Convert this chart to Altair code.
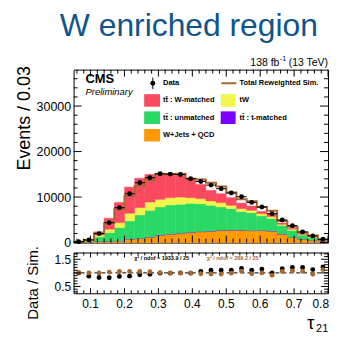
import altair as alt
import pandas as pd

# ---------------- values ----------------
bin_edges = [0.05, 0.08, 0.11, 0.14, 0.17, 0.20, 0.23, 0.26, 0.29, 0.32, 0.35, 0.38, 0.41,
             0.44, 0.47, 0.50, 0.53, 0.56, 0.59, 0.62, 0.65, 0.68, 0.71, 0.74, 0.77, 0.80]
data_counts = [200, 580, 1970, 4380, 7670, 10730, 13140, 14240, 15110, 15040, 14960, 14020, 13430,
               12630, 11830, 10880, 10070, 8830, 7810, 6350, 4960, 3720, 2340, 1460, 730]
wjets_qcd = [70, 150, 220, 290, 365, 730, 880, 1170, 1600, 1830, 1970, 2190, 2340,
             2480, 2630, 2700, 2700, 2600, 2630, 2480, 1830, 1100, 730, 510, 300]
tt_tmatched = [5, 10, 20, 30, 40, 50, 60, 70, 80, 90, 90, 90, 90,
               90, 90, 80, 80, 70, 70, 60, 50, 40, 30, 20, 15]
tt_unmatched = [25, 205, 1000, 1870, 2885, 3970, 5120, 5840, 6130, 6330, 6340, 6330, 6070,
                5610, 5090, 4670, 4010, 3900, 3140, 2720, 1870, 1510, 890, 550, 135]
tw = [20, 75, 370, 730, 1090, 1670, 1610, 1820, 1680, 1610, 1600, 1250, 1140,
      950, 950, 730, 660, 510, 510, 430, 250, 250, 150, 120, 70]
tt_wmatched = [80, 220, 760, 2420, 4440, 5770, 6460, 6090, 5770, 5330, 4960, 4300, 3150,
               2350, 1990, 1710, 1230, 950, 500, 660, 300, 200, 150, 100, 80]
total_reweighted = [200, 580, 1970, 4250, 7300, 10220, 12510, 13690, 14960, 15040, 15110, 14020, 13850,
                    13160, 12320, 10990, 9500, 9100, 7810, 6980, 4720, 3480, 2210, 1540, 650]
ratio_nominal = [1.0, 0.88, 0.83, 0.82, 0.87, 0.88, 0.93, 0.95, 0.99, 0.99, 1.0, 0.99, 1.05,
                 1.1, 1.1, 1.1, 1.16, 1.1, 1.14, 1.0, 1.15, 1.2, 1.2, 1.12, 1.22]
ratio_reweighted = [1.02, 1.0, 1.0, 1.03, 1.05, 1.05, 1.05, 1.04, 1.01, 1.0, 0.99, 1.0, 0.97,
                    0.96, 0.96, 0.99, 1.06, 0.97, 1.0, 0.91, 1.05, 1.07, 1.06, 0.95, 1.12]

names = ["W+Jets + QCD", "tt\u0304 : t-matched", "tt\u0304 : unmatched", "tW", "tt\u0304 : W-matched"]
colors = ["#ff9900", "#7c00ff", "#2ad964", "#f2f54c", "#fb4a60"]
series = [wjets_qcd, tt_tmatched, tt_unmatched, tw, tt_wmatched]

x_major = [0.1, 0.2, 0.3, 0.4, 0.5, 0.6, 0.7, 0.8]
x_labels = ["0.1", "0.2", "0.3", "0.4", "0.5", "0.6", "0.7", "0.8"]
x_minor = [round(0.02 * i, 2) for i in range(3, 41) if i % 5 != 0]
y_major = [0, 10000, 20000, 30000]
y_minor = [2000 * i for i in range(1, 19) if i % 5 != 0]
r_major = [0.5, 1, 1.5]
r_minor = [round(0.1 * i, 1) for i in range(3, 18) if i % 5 != 0]

# ---------------- styling ----------------
FONT = "Liberation Sans"
BROWN = "#a8672e"
W, H, RH = 256, 174, 41

lo = bin_edges[:-1]
hi = bin_edges[1:]
mid = [(a + b) / 2 for a, b in zip(lo, hi)]

# stacked table (bottom component first)
rows = []
base_level = [0] * len(lo)
for nm, vals in zip(names, series):
    for i, v in enumerate(vals):
        rows.append({"lo": lo[i], "hi": hi[i], "comp": nm,
                     "y0": base_level[i], "y1": base_level[i] + v})
        base_level[i] += v
stack_df = pd.DataFrame(rows)

xs = alt.Scale(domain=[0.05, 0.8], nice=False, zero=False)
ys = alt.Scale(domain=[0, 38000], nice=False)
rs = alt.Scale(domain=[0.25, 1.75], nice=False, zero=False)
cscale = alt.Scale(domain=names, range=colors)

one = pd.DataFrame({"a": [0]})


def txt(s, x, y, size, color="black", align="left", baseline="alphabetic", **kw):
    return alt.Chart(one).mark_text(text=s, fontSize=size, font=FONT, color=color,
                                    align=align, baseline=baseline, **kw).encode(
        x=alt.value(x), y=alt.value(y))


def rect(x1, x2, y1, y2, fill):
    return alt.Chart(one).mark_rect(fill=fill).encode(
        x=alt.value(x1), x2=alt.value(x2), y=alt.value(y1), y2=alt.value(y2))


def xticks(vals, length, height):
    d = pd.DataFrame({"v": vals})
    base = alt.Chart(d).mark_rule(color="black", strokeWidth=1)
    bot = base.encode(x=alt.X("v:Q", scale=xs, axis=None), y=alt.value(height), y2=alt.value(height - length))
    top = base.encode(x=alt.X("v:Q", scale=xs, axis=None), y=alt.value(0), y2=alt.value(length))
    return [bot, top]


def yticks(vals, scale, length):
    d = pd.DataFrame({"v": vals})
    base = alt.Chart(d).mark_rule(color="black", strokeWidth=1)
    left = base.encode(y=alt.Y("v:Q", scale=scale), x=alt.value(0), x2=alt.value(length))
    right = base.encode(y=alt.Y("v:Q", scale=scale), x=alt.value(W), x2=alt.value(W - length))
    return [left, right]


# ---------------- main panel ----------------
bars = alt.Chart(stack_df).mark_bar(strokeWidth=0.4).encode(
    x=alt.X("lo:Q", scale=xs, axis=None),
    x2="hi:Q",
    y=alt.Y("y0:Q", scale=ys,
            axis=alt.Axis(values=y_major, format="d", labelFontSize=12.5, labelFont=FONT,
                          labelColor="black", ticks=False, tickSize=0, domain=False, grid=False,
                          labelPadding=3, labelOverlap=False, title="Events / 0.03",
                          titleFontSize=18, titleFont=FONT,
                          titleFontWeight="normal", titleColor="black", titleAngle=-90,
                          titleX=-49, titleY=-4, titleAlign="right", titleBaseline="middle")),
    y2="y1:Q",
    color=alt.Color("comp:N", scale=cscale, legend=None),
    stroke=alt.Stroke("comp:N", scale=cscale, legend=None),
)

step_df = pd.DataFrame({"x": bin_edges, "y": total_reweighted + [total_reweighted[-1]]})
step = alt.Chart(step_df).mark_line(interpolate="step-after", color=BROWN, strokeWidth=2).encode(
    x=alt.X("x:Q", scale=xs, axis=None), y=alt.Y("y:Q", scale=ys))

dat_df = pd.DataFrame({"lo": lo, "hi": hi, "mid": mid, "n": data_counts})
dbar = alt.Chart(dat_df).mark_rule(color="black", strokeWidth=1).encode(
    x=alt.X("lo:Q", scale=xs, axis=None), x2="hi:Q", y=alt.Y("n:Q", scale=ys))
dpt = alt.Chart(dat_df).mark_circle(color="black", size=24, opacity=1).encode(
    x=alt.X("mid:Q", scale=xs, axis=None), y=alt.Y("n:Q", scale=ys))

legend = [
    txt("CMS", 12, 13, 13, fontWeight="bold"),
    txt("Preliminary", 12, 26, 9.5, fontStyle="italic"),
    alt.Chart(one).mark_rule(color="black", strokeWidth=1).encode(
        x=alt.value(79.7), y=alt.value(8), y2=alt.value(19.5)),
    alt.Chart(one).mark_circle(color="black", size=24, opacity=1).encode(
        x=alt.value(79.7), y=alt.value(13.7)),
    txt("Data", 90, 13.7, 7.5, baseline="middle", fontWeight="bold"),
    alt.Chart(one).mark_rule(color=BROWN, strokeWidth=2).encode(
        x=alt.value(148.7), x2=alt.value(163.7), y=alt.value(13.7)),
    txt("Total Reweighted Sim.", 167, 13.7, 7.5, baseline="middle", fontWeight="bold"),
    rect(71, 87, 24.7, 37.3, colors[4]),
    txt(names[4], 90, 31, 7.5, baseline="middle", fontWeight="bold"),
    rect(148, 163, 24.7, 37.3, colors[3]),
    txt(names[3], 167, 31, 7.5, baseline="middle", fontWeight="bold"),
    rect(71, 87, 42, 54.7, colors[2]),
    txt(names[2], 90, 48.3, 7.5, baseline="middle", fontWeight="bold"),
    rect(148, 163, 42, 54.7, colors[1]),
    txt(names[1], 167, 48.3, 7.5, baseline="middle", fontWeight="bold"),
    rect(71, 87, 59.7, 72.3, colors[0]),
    txt(names[0], 90, 66, 7.5, baseline="middle", fontWeight="bold"),
]

header = [
    txt("W enriched region", 116, -34, 32, color="#10548a", align="center"),
    txt("138 fb", 207, -4, 10.5, align="right"),
    txt("-1", 207.5, -8.5, 7),
    txt("(13 TeV)", 256, -4, 10.5, align="right"),
]

main = alt.layer(
    bars, step, dbar, dpt,
    *xticks(x_major, 7, H), *xticks(x_minor, 4, H),
    *yticks(y_major, ys, 8), *yticks(y_minor, ys, 4),
    *legend, *header,
).properties(width=W, height=H)

# ---------------- ratio panel ----------------
rat_df = pd.DataFrame({"mid": mid, "rn": ratio_nominal, "rr": ratio_reweighted})
rpn = alt.Chart(rat_df).mark_circle(color="black", size=24, opacity=1).encode(
    x=alt.X("mid:Q", scale=xs, axis=None),
    y=alt.Y("rn:Q", scale=rs,
            axis=alt.Axis(values=r_major,
                          labelExpr="datum.value == 1 ? '1' : format(datum.value, '.1f')",
                          labelFontSize=12, labelFont=FONT, labelOverlap=False,
                          labelColor="black", ticks=False, tickSize=0, domain=False, grid=False,
                          labelPadding=3, title="Data / Sim.", titleFontSize=15, titleFont=FONT,
                          titleFontWeight="normal", titleColor="black", titleAngle=-90,
                          titleX=-41, titleY=30, titleAlign="center", titleBaseline="middle")),
)
rline = alt.Chart(one).mark_rule(color="black", strokeWidth=1, strokeDash=[4, 3]).encode(
    y=alt.Y(datum=1, scale=rs), x=alt.value(0), x2=alt.value(W))
rpr = alt.Chart(rat_df).mark_circle(color=BROWN, size=24, opacity=1).encode(
    x=alt.X("mid:Q", scale=xs, axis=None), y=alt.Y("rr:Q", scale=rs))

lab_df = pd.DataFrame({"v": x_major, "t": x_labels})
xlab = alt.Chart(lab_df.iloc[:-1]).mark_text(
    fontSize=12, font=FONT, color="black", align="center", baseline="middle").encode(
    x=alt.X("v:Q", scale=xs, axis=None), y=alt.value(RH + 11), text="t:N")
xlab_last = alt.Chart(lab_df.iloc[-1:]).mark_text(
    fontSize=12, font=FONT, color="black", align="right", baseline="middle", dx=1).encode(
    x=alt.X("v:Q", scale=xs, axis=None), y=alt.value(RH + 11), text="t:N")

ratio = alt.layer(
    rpn, rline, rpr, xlab, xlab_last,
    *xticks(x_major, 5, RH), *xticks(x_minor, 3, RH),
    *yticks(r_major, rs, 7), *yticks(r_minor, rs, 4),
    txt("\u03c7\u00b2 / ndof = 1933.9 / 25", 61, 8, 5.5, fontWeight="bold"),
    txt("\u03c7\u00b2 / ndof = 289.2 / 25", 134, 8, 5.5, color=BROWN, fontWeight="bold"),
    txt("\u03c4", 235, 76.5, 18),
    txt("21", 244, 80, 11),
).properties(width=W, height=RH)

chart = alt.vconcat(main, ratio, spacing=-5).configure_view(
    stroke="black", strokeWidth=1
).properties(padding={"left": 7, "top": 0, "right": 0, "bottom": 0})

chart.save("out.html", embed_options={"renderer": "svg", "actions": False})
